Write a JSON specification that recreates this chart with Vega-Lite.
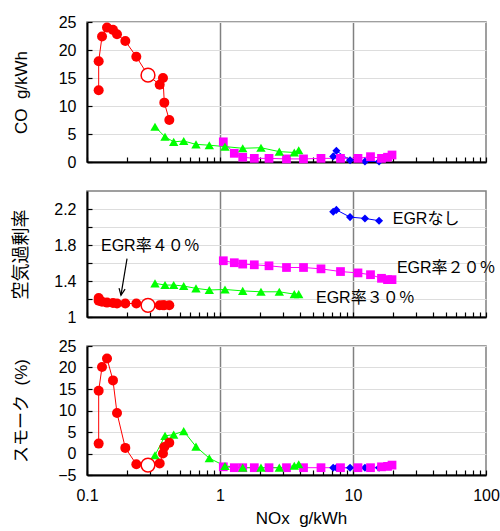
{
  "$schema": "https://vega.github.io/schema/vega-lite/v6.json",
  "padding": {"left": 11, "top": 13, "right": 5, "bottom": 3},
  "background": "white",
  "spacing": 29,
  "bounds": "flush",
  "datasets": {
    "pts": [
      {"series": "EGRなし", "nox": 7.1, "co": 1.0, "lam": 2.17, "smoke": -3.3},
      {"series": "EGRなし", "nox": 7.5, "co": 2.0, "lam": 2.19, "smoke": -3.3},
      {"series": "EGRなし", "nox": 9.5, "co": 0.3, "lam": 2.11, "smoke": -3.3},
      {"series": "EGRなし", "nox": 12.3, "co": 0.1, "lam": 2.095, "smoke": -3.3},
      {"series": "EGRなし", "nox": 15.7, "co": 0.1, "lam": 2.07, "smoke": -3.3},
      {"series": "EGR20", "nox": 1.059, "co": 3.6, "lam": 1.625, "smoke": -3.1},
      {"series": "EGR20", "nox": 1.281, "co": 1.55, "lam": 1.603, "smoke": -3.3},
      {"series": "EGR20", "nox": 1.482, "co": 0.85, "lam": 1.588, "smoke": -3.3},
      {"series": "EGR20", "nox": 1.811, "co": 0.65, "lam": 1.58, "smoke": -3.3},
      {"series": "EGR20", "nox": 2.336, "co": 0.65, "lam": 1.569, "smoke": -3.3},
      {"series": "EGR20", "nox": 3.162, "co": 0.55, "lam": 1.55, "smoke": -3.3},
      {"series": "EGR20", "nox": 4.245, "co": 0.55, "lam": 1.55, "smoke": -3.3},
      {"series": "EGR20", "nox": 5.745, "co": 0.65, "lam": 1.535, "smoke": -3.3},
      {"series": "EGR20", "nox": 8.054, "co": 0.65, "lam": 1.505, "smoke": -3.3},
      {"series": "EGR20", "nox": 10.9, "co": 0.65, "lam": 1.49, "smoke": -3.3},
      {"series": "EGR20", "nox": 13.54, "co": 0.95, "lam": 1.47, "smoke": -3.3},
      {"series": "EGR20", "nox": 16.38, "co": 0.65, "lam": 1.43, "smoke": -3.1},
      {"series": "EGR20", "nox": 18.18, "co": 0.85, "lam": 1.415, "smoke": -3.0},
      {"series": "EGR20", "nox": 19.65, "co": 1.25, "lam": 1.415, "smoke": -2.7},
      {"series": "EGR30", "nox": 0.3245, "co": 6.3, "lam": 1.374, "smoke": -0.4},
      {"series": "EGR30", "nox": 0.386, "co": 4.5, "lam": 1.355, "smoke": 4.1},
      {"series": "EGR30", "nox": 0.4486, "co": 3.6, "lam": 1.355, "smoke": 4.4},
      {"series": "EGR30", "nox": 0.5335, "co": 3.75, "lam": 1.344, "smoke": 5.2},
      {"series": "EGR30", "nox": 0.66, "co": 3.15, "lam": 1.318, "smoke": 1.6},
      {"series": "EGR30", "nox": 0.831, "co": 3.0, "lam": 1.3, "smoke": -1.1},
      {"series": "EGR30", "nox": 1.09, "co": 2.75, "lam": 1.306, "smoke": -2.9},
      {"series": "EGR30", "nox": 1.482, "co": 2.45, "lam": 1.29, "smoke": -3.3},
      {"series": "EGR30", "nox": 2.033, "co": 2.55, "lam": 1.28, "smoke": -3.3},
      {"series": "EGR30", "nox": 2.792, "co": 1.85, "lam": 1.28, "smoke": -3.3},
      {"series": "EGR30", "nox": 3.619, "co": 1.7, "lam": 1.254, "smoke": -2.85},
      {"series": "EGR30", "nox": 3.906, "co": 2.1, "lam": 1.254, "smoke": -2.5},
      {"series": "EGR40", "nox": 0.1224, "co": 12.8, "lam": 1.21, "smoke": 2.3},
      {"series": "EGR40", "nox": 0.1224, "co": 18.0, "lam": 1.18, "smoke": 14.6},
      {"series": "EGR40", "nox": 0.1297, "co": 22.4, "lam": 1.17, "smoke": 20.1},
      {"series": "EGR40", "nox": 0.1414, "co": 24.0, "lam": 1.16, "smoke": 22.1},
      {"series": "EGR40", "nox": 0.1568, "co": 23.6, "lam": 1.155, "smoke": 17.0},
      {"series": "EGR40", "nox": 0.1681, "co": 22.8, "lam": 1.15, "smoke": 9.4},
      {"series": "EGR40", "nox": 0.1941, "co": 21.6, "lam": 1.15, "smoke": 1.3},
      {"series": "EGR40", "nox": 0.2349, "co": 18.8, "lam": 1.15, "smoke": -2.5},
      {"series": "EGR40", "nox": 0.2875, "co": 15.5, "lam": 1.13, "smoke": -2.7},
      {"series": "EGR40", "nox": 0.352, "co": 13.8, "lam": 1.13, "smoke": -2.3},
      {"series": "EGR40", "nox": 0.3726, "co": 15.0, "lam": 1.13, "smoke": 0.0},
      {"series": "EGR40", "nox": 0.3813, "co": 10.6, "lam": 1.13, "smoke": 1.5},
      {"series": "EGR40", "nox": 0.4157, "co": 7.5, "lam": 1.13, "smoke": 2.5}
    ],
    "labels": [
      {"text": "EGR率４０％", "nox": 0.1274, "lam": 1.79},
      {"text": "EGRなし", "nox": 19.9, "lam": 2.09},
      {"text": "EGR率２０％", "nox": 21.4, "lam": 1.55},
      {"text": "EGR率３０％", "nox": 5.27, "lam": 1.216}
    ],
    "arrow": [
      {"nox": 0.2, "lam": 1.648, "nox2": 0.18, "lam2": 1.242}
    ]
  },
  "vconcat": [
    {
      "width": 399,
      "height": 140,
      "data": {"name": "pts"},
      "encoding": {
        "x": {"field": "nox", "type": "quantitative",
          "scale": {"type": "log", "domain": [0.1, 100], "nice": false},
          "axis": {"values": [0.1,0.2,0.3,0.4,0.5,0.6,0.7,0.8,0.9,1,2,3,4,5,6,7,8,9,10,20,30,40,50,60,70,80,90,100],
            "labels": false, "title": null, "grid": true, "gridColor": "#808080", "gridWidth": 1.5,
            "gridOpacity": {"condition": {"test": "datum.value == 1 || datum.value == 10", "value": 1}, "value": 0}}},
        "y": {"field": "co", "type": "quantitative",
          "scale": {"domain": [0, 25], "nice": false},
          "axis": {"values": [0, 5, 10, 15, 20, 25], "title": "CO\u00a0\u00a0g/kWh", "labelOverlap": false}}
      },
      "layer": [
        {"mark": {"type": "line", "clip": false},
          "encoding": {
            "color": {"field": "series", "type": "nominal", "legend": null,
              "scale": {"domain": ["EGRなし", "EGR20", "EGR30", "EGR40"], "range": ["#0000ff", "#ff00ff", "#00ff00", "#ff0000"]}},
            "strokeWidth": {"field": "series", "type": "nominal", "legend": null,
              "scale": {"domain": ["EGRなし", "EGR20", "EGR30", "EGR40"], "range": [1, 1, 1, 1.5]}}}},
        {"transform": [{"filter": "!(datum.series == 'EGR40' && datum.nox == 0.2875)"}],
          "mark": {"type": "point", "filled": true, "opacity": 1},
          "encoding": {
            "color": {"field": "series", "type": "nominal", "legend": null,
              "scale": {"domain": ["EGRなし", "EGR20", "EGR30", "EGR40"], "range": ["#0000ff", "#ff00ff", "#00ff00", "#ff0000"]}},
            "shape": {"field": "series", "type": "nominal", "legend": null,
              "scale": {"domain": ["EGRなし", "EGR20", "EGR30", "EGR40"], "range": ["diamond", "square", "triangle-up", "circle"]}},
            "size": {"field": "series", "type": "nominal", "legend": null,
              "scale": {"domain": ["EGRなし", "EGR20", "EGR30", "EGR40"], "range": [65, 100, 120, 190]}}}},
        {"transform": [{"filter": "datum.series == 'EGR40' && datum.nox == 0.2875"}],
          "mark": {"type": "point", "shape": "circle", "fill": "white", "stroke": "#ff0000", "strokeWidth": 1.5, "size": 190, "opacity": 1}}
      ]
    },
    {
      "width": 399,
      "height": 126,
      "data": {"name": "pts"},
      "encoding": {
        "x": {"field": "nox", "type": "quantitative",
          "scale": {"type": "log", "domain": [0.1, 100], "nice": false},
          "axis": {"values": [0.1,0.2,0.3,0.4,0.5,0.6,0.7,0.8,0.9,1,2,3,4,5,6,7,8,9,10,20,30,40,50,60,70,80,90,100],
            "labels": false, "title": null, "grid": true, "gridColor": "#808080", "gridWidth": 1.5,
            "gridOpacity": {"condition": {"test": "datum.value == 1 || datum.value == 10", "value": 1}, "value": 0}}},
        "y": {"field": "lam", "type": "quantitative",
          "scale": {"domain": [1, 2.4], "nice": false},
          "axis": {"values": [1, 1.2, 1.4, 1.6, 1.8, 2.0, 2.2], "format": "~g", "labelOverlap": false,
            "labelExpr": "(datum.value == 1 || datum.value == 1.4 || datum.value == 1.8 || datum.value == 2.2) ? datum.label : ''",
            "title": "空気過剰率", "titleFontSize": 18}}
      },
      "layer": [
        {"mark": {"type": "line", "clip": false},
          "encoding": {
            "color": {"field": "series", "type": "nominal", "legend": null,
              "scale": {"domain": ["EGRなし", "EGR20", "EGR30", "EGR40"], "range": ["#0000ff", "#ff00ff", "#00ff00", "#ff0000"]}},
            "strokeWidth": {"field": "series", "type": "nominal", "legend": null,
              "scale": {"domain": ["EGRなし", "EGR20", "EGR30", "EGR40"], "range": [1, 1, 1, 1.5]}}}},
        {"transform": [{"filter": "!(datum.series == 'EGR40' && datum.nox == 0.2875)"}],
          "mark": {"type": "point", "filled": true, "opacity": 1},
          "encoding": {
            "color": {"field": "series", "type": "nominal", "legend": null,
              "scale": {"domain": ["EGRなし", "EGR20", "EGR30", "EGR40"], "range": ["#0000ff", "#ff00ff", "#00ff00", "#ff0000"]}},
            "shape": {"field": "series", "type": "nominal", "legend": null,
              "scale": {"domain": ["EGRなし", "EGR20", "EGR30", "EGR40"], "range": ["diamond", "square", "triangle-up", "circle"]}},
            "size": {"field": "series", "type": "nominal", "legend": null,
              "scale": {"domain": ["EGRなし", "EGR20", "EGR30", "EGR40"], "range": [65, 100, 120, 190]}}}},
        {"transform": [{"filter": "datum.series == 'EGR40' && datum.nox == 0.2875"}],
          "mark": {"type": "point", "shape": "circle", "fill": "white", "stroke": "#ff0000", "strokeWidth": 1.5, "size": 190, "opacity": 1}},
        {"data": {"name": "labels"},
          "mark": {"type": "text", "align": "left", "baseline": "middle", "fontSize": 16, "font": "Liberation Sans, Noto Sans CJK JP", "color": "#000"},
          "encoding": {"text": {"field": "text"}}},
        {"data": {"name": "arrow"},
          "mark": {"type": "rule", "color": "#000", "strokeWidth": 1.2},
          "encoding": {"x2": {"field": "nox2"}, "y2": {"field": "lam2"}}},
        {"data": {"name": "arrow"},
          "mark": {"type": "point", "shape": "M-0.5,-1.1L0,0L0.5,-1.1", "filled": false, "stroke": "#000", "strokeWidth": 1.2, "size": 150, "angle": 9.5, "opacity": 1},
          "encoding": {"x": {"field": "nox2", "type": "quantitative"}, "y": {"field": "lam2", "type": "quantitative"}}}
      ]
    },
    {
      "width": 399,
      "height": 129,
      "data": {"name": "pts"},
      "encoding": {
        "x": {"field": "nox", "type": "quantitative",
          "scale": {"type": "log", "domain": [0.1, 100], "nice": false},
          "axis": {"values": [0.1,0.2,0.3,0.4,0.5,0.6,0.7,0.8,0.9,1,2,3,4,5,6,7,8,9,10,20,30,40,50,60,70,80,90,100],
            "format": "~g", "labelFlush": false, "labelOverlap": false,
            "labelExpr": "(datum.value == 0.1 || datum.value == 1 || datum.value == 10 || datum.value == 100) ? datum.label : ''",
            "title": "NOx\u00a0\u00a0g/kWh", "titleX": 214, "titlePadding": 7,
            "grid": true, "gridColor": "#808080", "gridWidth": 1.5,
            "gridOpacity": {"condition": {"test": "datum.value == 1 || datum.value == 10", "value": 1}, "value": 0}}},
        "y": {"field": "smoke", "type": "quantitative",
          "scale": {"domain": [-5, 25], "nice": false},
          "axis": {"values": [-5, 0, 5, 10, 15, 20, 25], "title": "スモーク\u00a0\u00a0(%)", "labelOverlap": false}}
      },
      "layer": [
        {"mark": {"type": "line", "clip": false},
          "encoding": {
            "color": {"field": "series", "type": "nominal", "legend": null,
              "scale": {"domain": ["EGRなし", "EGR20", "EGR30", "EGR40"], "range": ["#0000ff", "#ff00ff", "#00ff00", "#ff0000"]}},
            "strokeWidth": {"field": "series", "type": "nominal", "legend": null,
              "scale": {"domain": ["EGRなし", "EGR20", "EGR30", "EGR40"], "range": [1, 1, 1, 1.5]}}}},
        {"transform": [{"filter": "!(datum.series == 'EGR40' && datum.nox == 0.2875)"}],
          "mark": {"type": "point", "filled": true, "opacity": 1},
          "encoding": {
            "color": {"field": "series", "type": "nominal", "legend": null,
              "scale": {"domain": ["EGRなし", "EGR20", "EGR30", "EGR40"], "range": ["#0000ff", "#ff00ff", "#00ff00", "#ff0000"]}},
            "shape": {"field": "series", "type": "nominal", "legend": null,
              "scale": {"domain": ["EGRなし", "EGR20", "EGR30", "EGR40"], "range": ["diamond", "square", "triangle-up", "circle"]}},
            "size": {"field": "series", "type": "nominal", "legend": null,
              "scale": {"domain": ["EGRなし", "EGR20", "EGR30", "EGR40"], "range": [65, 100, 120, 190]}}}},
        {"transform": [{"filter": "datum.series == 'EGR40' && datum.nox == 0.2875"}],
          "mark": {"type": "point", "shape": "circle", "fill": "white", "stroke": "#ff0000", "strokeWidth": 1.5, "size": 190, "opacity": 1}}
      ]
    }
  ],
  "config": {
    "font": "Liberation Sans, Noto Sans CJK JP",
    "view": {"stroke": "#808080", "strokeWidth": 1.5},
    "axis": {
      "domainColor": "#000", "domainWidth": 2,
      "tickColor": "#000", "tickWidth": 1.2, "tickSize": -5,
      "labelFont": "Liberation Sans", "labelFontSize": 16, "labelColor": "#000", "labelPadding": 16,
      "titleFont": "Liberation Sans, Noto Sans CJK JP", "titleFontSize": 17, "titleFontWeight": "normal", "titleColor": "#000"
    },
    "axisX": {"labelPadding": 17, "labelFlush": false},
    "axisY": {"titleX": -66, "titleBaseline": "middle"}
  }
}
